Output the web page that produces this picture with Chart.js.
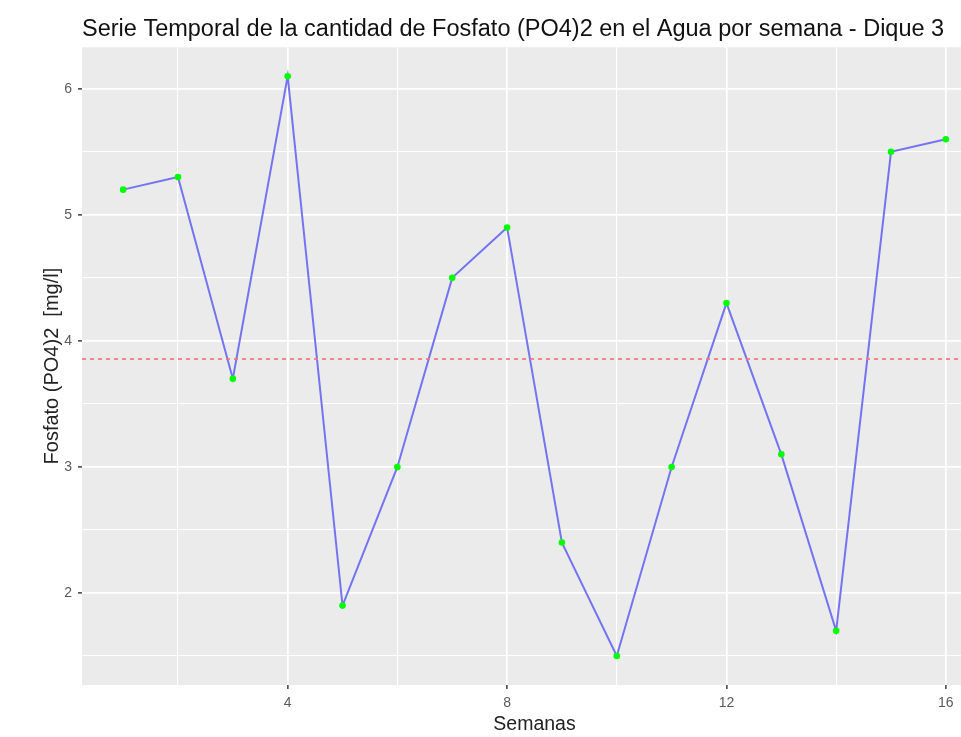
<!DOCTYPE html>
<html>
<head>
<meta charset="utf-8">
<script src="https://cdn.jsdelivr.net/npm/chart.js@4.4.0/dist/chart.umd.min.js"></script>
<style>
  html, body { margin: 0; padding: 0; background: #fff; overflow: hidden; }
  #wrap { position: absolute; left: 0; top: 0; width: 1000px; height: 737px; }
</style>
</head>
<body>
<div id="wrap"><canvas id="myChart" width="1000" height="737"></canvas></div>
<script>
    // datos
    const semanas = [1, 2, 3, 4, 5, 6, 7, 8, 9, 10, 11, 12, 13, 14, 15, 16];
    const fosfato = [5.2, 5.3, 3.7, 6.1, 1.9, 3.0, 4.5, 4.9, 2.4, 1.5, 3.0, 4.3, 3.1, 1.7, 5.5, 5.6];

    const xTicks = [4, 8, 12, 16];
    const xMinor = [2, 6, 10, 14];
    const yTicks = [2, 3, 4, 5, 6];
    const yMinor = [1.5, 2.5, 3.5, 4.5, 5.5];

    const media = fosfato.reduce((a, b) => a + b, 0) / fosfato.length;

    // rango como ggplot (expansion 5%)
    const xSpan = Math.max(...semanas) - Math.min(...semanas);
    const ySpan = Math.max(...fosfato) - Math.min(...fosfato);
    const xMin = Math.min(...semanas) - xSpan * 0.05;
    const xMax = Math.max(...semanas) + xSpan * 0.05;
    const yMin = Math.min(...fosfato) - ySpan * 0.05;
    const yMax = Math.max(...fosfato) + ySpan * 0.05;

    const FONT = "'Liberation Sans', Arial, sans-serif";

    const panelBg = {
        id: 'panelBg',
        beforeDraw(chart) {
            const {ctx, chartArea: a} = chart;
            ctx.save();
            ctx.fillStyle = '#EBEBEB';
            ctx.fillRect(a.left, a.top, a.right - a.left, a.bottom - a.top);
            ctx.restore();
        }
    };

    const meanLine = {
        id: 'meanLine',
        afterDatasetsDraw(chart) {
            const {ctx, chartArea: a} = chart;
            const y = chart.scales.y.getPixelForValue(media);
            ctx.save();
            ctx.strokeStyle = '#F07777';
            ctx.lineWidth = 1.7;
            ctx.setLineDash([4, 4]);
            ctx.beginPath();
            ctx.moveTo(a.left, y);
            ctx.lineTo(a.right, y);
            ctx.stroke();
            ctx.restore();
        }
    };

    const isMajor = (list, v) => list.includes(Math.round(v * 100) / 100);

    const config = {
        type: 'line',
        data: {
            datasets: [{
                label: 'Fosfato',
                data: semanas.map((s, i) => ({x: s, y: fosfato[i]})),
                borderColor: '#7474F0',
                borderWidth: 2,
                pointBackgroundColor: '#00FF00',
                pointBorderWidth: 0,
                pointRadius: 3.3,
                tension: 0,
                fill: false
            }]
        },
        options: {
            responsive: false,
            animation: false,
            layout: { padding: { left: 0, right: 13, top: 0, bottom: 0 } },
            plugins: {
                legend: { display: false },
                tooltip: { enabled: false },
                title: {
                    display: true,
                    text: 'Serie Temporal de la cantidad de Fosfato (PO4)2 en el Agua por semana - Dique 3',
                    align: 'start',
                    fullSize: false,
                    color: '#111',
                    font: { family: FONT, size: 23.5, weight: 'normal' },
                    padding: { top: 15, bottom: 4 }
                }
            },
            scales: {
                x: {
                    type: 'linear',
                    min: xMin,
                    max: xMax,
                    afterBuildTicks: (s) => { s.ticks = xMinor.concat(xTicks).sort((a, b) => a - b).map(v => ({value: v})); },
                    afterFit: (s) => { s.height = 52; },
                    border: { display: false },
                    grid: {
                        color: '#FFFFFF',
                        lineWidth: (c) => isMajor(xTicks, c.tick.value) ? 1.7 : 1.1,
                        tickColor: (c) => isMajor(xTicks, c.tick.value) ? '#555' : 'rgba(0,0,0,0)',
                        tickLength: 4
                    },
                    ticks: {
                        autoSkip: false,
                        maxRotation: 0,
                        padding: 6,
                        color: '#5a5a5a',
                        font: { family: FONT, size: 14 },
                        callback: (v) => isMajor(xTicks, v) ? String(v) : ''
                    },
                    title: {
                        display: true,
                        text: 'Semanas',
                        color: '#222',
                        font: { family: FONT, size: 19.5 },
                        padding: { top: 0, bottom: 1 }
                    }
                },
                y: {
                    type: 'linear',
                    min: yMin,
                    max: yMax,
                    afterBuildTicks: (s) => { s.ticks = yMinor.concat(yTicks).sort((a, b) => a - b).map(v => ({value: v})); },
                    afterFit: (s) => { s.width = 82; },
                    border: { display: false },
                    grid: {
                        color: '#FFFFFF',
                        lineWidth: (c) => isMajor(yTicks, c.tick.value) ? 1.7 : 1.1,
                        tickColor: (c) => isMajor(yTicks, c.tick.value) ? '#555' : 'rgba(0,0,0,0)',
                        tickLength: 4
                    },
                    ticks: {
                        autoSkip: false,
                        padding: 6,
                        color: '#5a5a5a',
                        font: { family: FONT, size: 14 },
                        callback: (v) => isMajor(yTicks, v) ? String(v) : ''
                    },
                    title: {
                        display: true,
                        text: 'Fosfato (PO4)2  [mg/l]',
                        color: '#222',
                        font: { family: FONT, size: 20 },
                        padding: { top: 40, bottom: 0 }
                    }
                }
            }
        },
        plugins: [panelBg, meanLine]
    };

    var myChart = new Chart(document.getElementById('myChart'), config);
</script>
</body>
</html>
